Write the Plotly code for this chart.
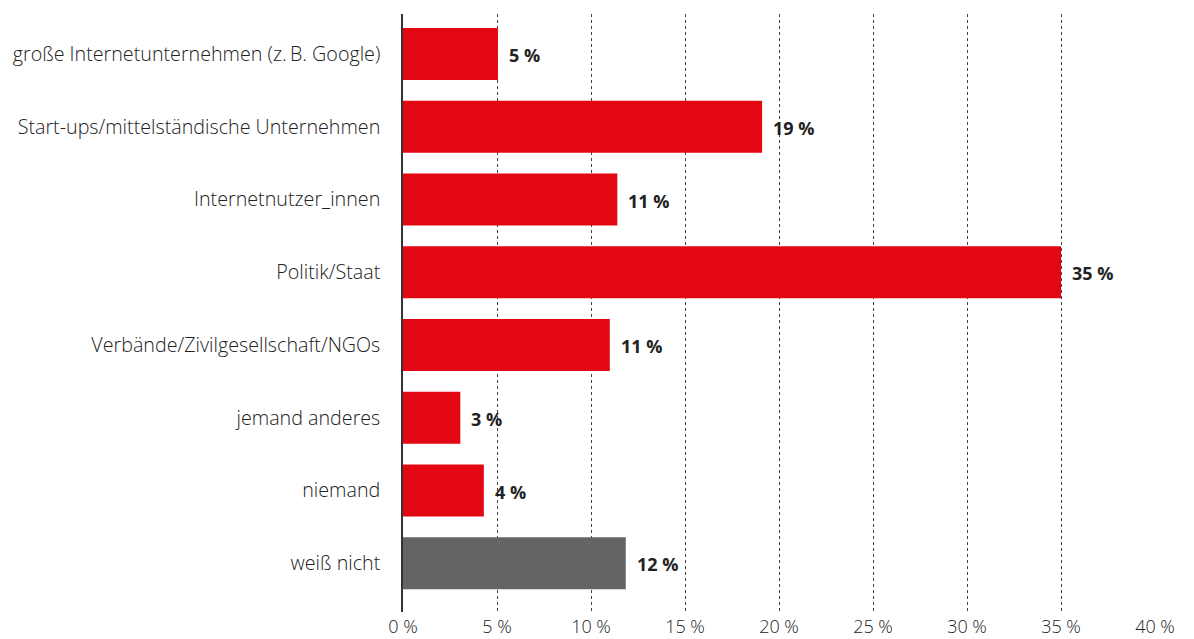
import plotly.graph_objects as go

categories = [
    "große Internetunternehmen (z.\u2009B. Google)",
    "Start-ups/mittelständische Unternehmen",
    "Internetnutzer_innen",
    "Politik/Staat",
    "Verbände/Zivilgesellschaft/NGOs",
    "jemand anderes",
    "niemand",
    "weiß nicht",
]
values = [5.05, 19.1, 11.4, 35.0, 11.0, 3.05, 4.3, 11.85]
value_labels = ["5", "19", "11", "35", "11", "3", "4", "12"]
bar_colors = ["#E30613"] * 7 + ["#646464"]
tick_values = [0, 5, 10, 15, 20, 25, 30, 35, 40]
tick_labels = [f"{t} %" for t in tick_values]

FONT = "Open Sans, Noto Sans, sans-serif"

fig = go.Figure()
fig.add_trace(go.Bar(
    y=categories, x=values, orientation="h",
    marker=dict(color=bar_colors, line=dict(width=0)),
    width=0.715, hoverinfo="skip",
))

for c, v, lab in zip(categories, values, value_labels):
    fig.add_annotation(
        x=v, y=c, text=f"<b>{lab} %</b>", showarrow=False,
        xanchor="left", xshift=9, yshift=-1,
        font=dict(family=FONT, size=18, color="#222222"),
    )

fig.update_layout(
    width=1194, height=639,
    margin=dict(l=403, r=39, t=14, b=27),
    paper_bgcolor="white", plot_bgcolor="white",
    showlegend=False,
    font=dict(family=FONT, size=17, color="#333333"),
)
fig.update_xaxes(
    range=[0, 40], tickvals=tick_values, ticktext=tick_labels,
    showgrid=True, gridcolor="#444444", griddash="dot", gridwidth=1,
    zeroline=False, showline=False, ticks="", automargin=False,
    tickfont=dict(size=18, color="#222222", family=FONT, weight=300),
    ticklabelstandoff=2,
)
fig.update_yaxes(
    type="category", autorange=False, range=[7.67, -0.55],
    showline=True, linecolor="#333333", linewidth=1.5,
    showgrid=False, zeroline=False, ticks="", automargin=False,
    ticklabelstandoff=17,
    tickfont=dict(size=19.7, color="#222222", family=FONT, weight=300),
)

fig.write_html("out.html", config={"displayModeBar": False},
               post_script="document.body.style.margin='0';")
